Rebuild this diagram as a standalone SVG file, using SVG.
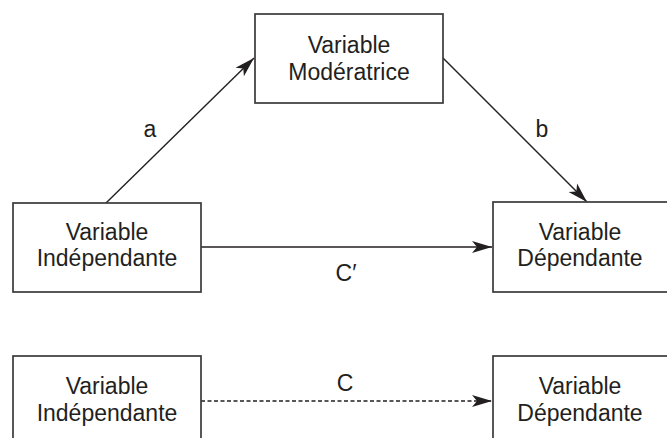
<svg xmlns="http://www.w3.org/2000/svg" width="667" height="438" viewBox="0 0 667 438">
<style>
.box{fill:#fff;stroke:#3a3a3a;stroke-width:1.7}
.t{font-family:"Liberation Sans",Arial,sans-serif;font-size:23px;fill:#231f20;text-anchor:middle}
.c{stroke:#231f20;stroke-width:1.4;fill:none}
.d{stroke-dasharray:4 2.5}
</style>
<defs>
<marker id="ah" markerWidth="22" markerHeight="14" refX="20" refY="7" orient="auto" markerUnits="userSpaceOnUse">
<path d="M0,1 L20,7 L0,13 L5,7 Z" fill="#231f20"/>
</marker>
</defs>
<rect width="667" height="438" fill="#fff"/>
<g id="connectors">
<line class="c" x1="106" y1="203" x2="254" y2="58" marker-end="url(#ah)"/>
<line class="c" x1="443" y1="58" x2="587" y2="202" marker-end="url(#ah)"/>
<line class="c" x1="201" y1="247" x2="492" y2="247" marker-end="url(#ah)"/>
<line class="c d" x1="201" y1="401" x2="492" y2="401" marker-end="url(#ah)"/>
<text class="t" x="150" y="137">a</text>
<text class="t" x="542" y="137">b</text>
<text class="t" x="346" y="281">C′</text>
<text class="t" x="345" y="391">C</text>
</g>
<g id="moderatrice">
<rect class="box" x="255" y="14" width="188" height="89"/>
<text class="t" x="349" y="53">Variable</text>
<text class="t" x="349" y="80">Modératrice</text>
</g>
<g id="independante1">
<rect class="box" x="13" y="203" width="188" height="89"/>
<text class="t" x="107" y="240">Variable</text>
<text class="t" x="107" y="266">Indépendante</text>
</g>
<g id="dependante1">
<rect class="box" x="493" y="202" width="188" height="90"/>
<text class="t" x="580" y="240">Variable</text>
<text class="t" x="580" y="266">Dépendante</text>
</g>
<g id="independante2">
<rect class="box" x="13" y="356" width="188" height="100"/>
<text class="t" x="107" y="394">Variable</text>
<text class="t" x="107" y="421">Indépendante</text>
</g>
<g id="dependante2">
<rect class="box" x="493" y="356" width="188" height="100"/>
<text class="t" x="580" y="394">Variable</text>
<text class="t" x="580" y="421">Dépendante</text>
</g>
</svg>
